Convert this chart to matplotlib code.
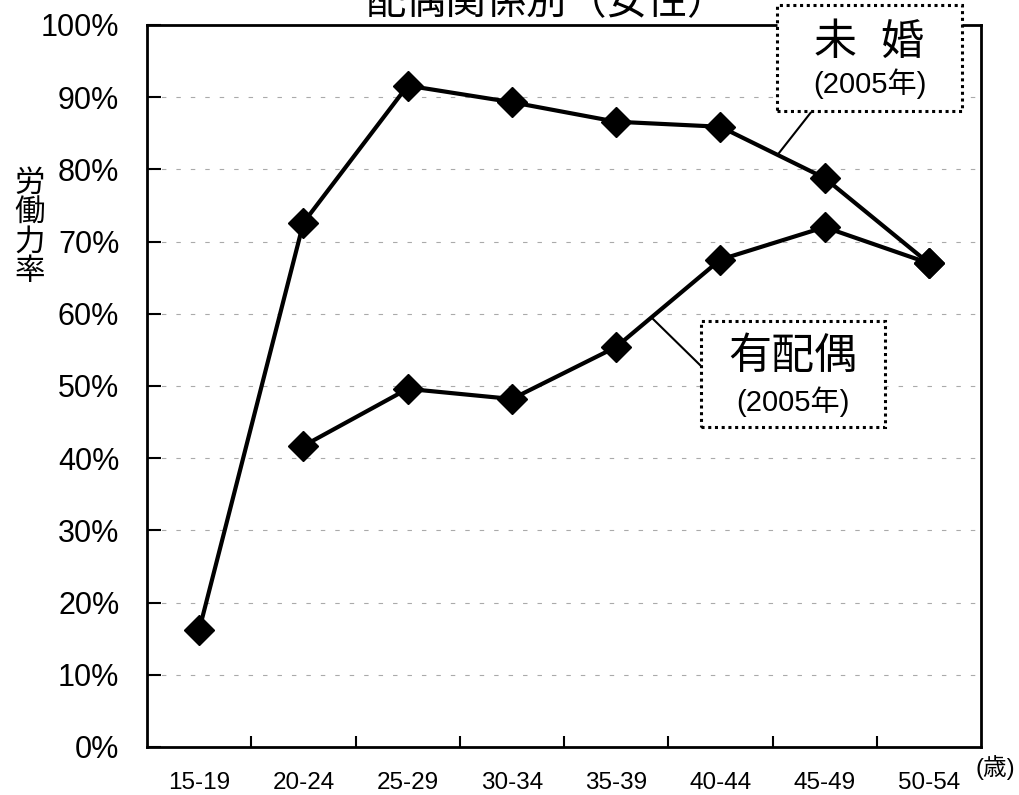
import numpy as np
import matplotlib
matplotlib.use('Agg')
import matplotlib.pyplot as plt
from matplotlib.patches import FancyBboxPatch

plt.rcParams['font.family'] = ['Liberation Sans', 'Noto Sans CJK JP']

########################################################################
# data (労働力率, %)
ages = ['15-19', '20-24', '25-29', '30-34', '35-39', '40-44', '45-49', '50-54']
unmarried = [16.2, 72.6, 91.6, 89.3, 86.6, 85.9, 78.8, 67.0]
married = [np.nan, 41.7, 49.6, 48.2, 55.4, 67.5, 72.0, 67.0]
y_ticks = [0, 10, 20, 30, 40, 50, 60, 70, 80, 90, 100]

########################################################################
fig = plt.figure(figsize=(10.19, 7.95), dpi=100)
ax = fig.add_axes([0.1443, 0.0604, 0.8184, 0.9082])

x = np.arange(len(ages))

ax.plot(x, unmarried, color='black', lw=3, marker='D', markersize=15,
        zorder=3, clip_on=False)
ax.plot(x, married, color='black', lw=3, marker='D', markersize=15,
        zorder=3, clip_on=False)

ax.set_xlim(-0.5, len(ages) - 0.5)
ax.set_ylim(0, 100)

# faint grid lines
for v in y_ticks[1:-1]:
    ax.axhline(v, color='#aaaaaa', lw=0.8, ls=(0, (4, 9)), zorder=1)

ax.set_yticks(y_ticks)
ax.set_yticklabels([f'{v}%' for v in y_ticks], fontsize=22)
ax.tick_params(axis='y', direction='in', length=10, width=1.5, pad=20)

# category ticks at boundaries, labels at centres
ax.set_xticks(np.arange(len(ages) - 1) + 0.5)
ax.set_xticklabels([])
ax.tick_params(axis='x', direction='in', length=8, width=1.5)
for i, lab in enumerate(ages):
    ax.text(i, -5.0, lab, ha='center', va='center', fontsize=17.5,
            clip_on=False)

for s in ax.spines.values():
    s.set_linewidth(2)

# axis titles
fig.text(0.029, 0.713, '労\n働\n力\n率', ha='center', va='center',
         fontsize=22, linespacing=0.98)
fig.text(0.977, 1 - 768 / 795, '(歳)', ha='center', va='center', fontsize=17)

# clipped title
fig.text(0.537, 1 - 22 / 795, '配偶関係別（女性）', ha='center', va='bottom',
         fontsize=29)

########################################################################
# callout boxes


def callout(x0, y0, x1, y1, big, tx, ty):
    # box in pixel coords -> figure fraction
    W, H = 1019, 795
    box = FancyBboxPatch((x0 / W, 1 - y1 / H), (x1 - x0) / W, (y1 - y0) / H,
                         boxstyle='square,pad=0', transform=fig.transFigure,
                         facecolor='white', edgecolor='black', lw=2.2,
                         ls=(0, (1, 1.2)), zorder=5)
    fig.patches.append(box)
    cx = (x0 + x1) / 2 / W
    fig.text(cx, 1 - ty[0] / H, big, ha='center', va='center',
             fontsize=31, zorder=6)
    fig.text(cx, 1 - ty[1] / H, '(2005年)', ha='center', va='center',
             fontsize=21, zorder=6)
    fig.add_artist(plt.Line2D([tx[0] / W, tx[2] / W],
                              [1 - tx[1] / H, 1 - tx[3] / H],
                              transform=fig.transFigure, color='black',
                              lw=1.5, zorder=4))


callout(777, 5, 962, 111, '未  婚', (812, 111, 779, 153), (44, 84))
callout(701, 321, 885, 427, '有配偶', (701, 366, 652, 318), (358, 402))

fig.savefig('out.png', dpi=100)
